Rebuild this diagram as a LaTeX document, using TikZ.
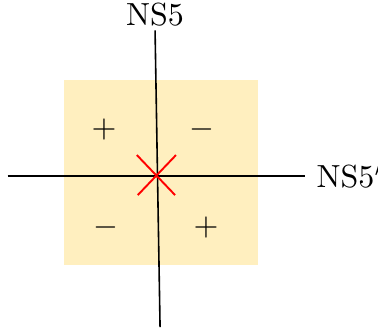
\documentclass[tikz,border=0pt]{standalone}
\usepackage{amsmath,amssymb}
\usepackage{tikz}

\begin{document}
\begin{tikzpicture}[scale=1, line width=0.5pt,
    % --- 样式定义 ---
    brane/.style={draw=black},
    region/.style={fill=orange!50!yellow!25, draw=none},
    crossing/.style={draw=red, line width=0.6pt},
    sign_text/.style={font=\normalsize}
]
    \useasboundingbox (-1.714,-1.736) rectangle (2.44,1.934);

    % =========================================
    % 背景区域
    % =========================================
    \fill[region] (-1.01,-0.98) rectangle (1.12,1.05);

    % --- 1. 定义坐标 ---
    % 竖直的 NS5 (略微倾斜)
    \coordinate (NS5_top) at (-0.01, 1.60);
    \coordinate (NS5_bot) at ( 0.045,-1.66);

    % 水平的 NS5'
    \coordinate (NS5p_left)  at (-1.63, 0);
    \coordinate (NS5p_right) at ( 1.64, 0);

    % 交点处的 X
    \coordinate (X_ul) at (-0.21, 0.23);
    \coordinate (X_lr) at ( 0.21,-0.21);
    \coordinate (X_ur) at ( 0.22, 0.23);
    \coordinate (X_ll) at (-0.20,-0.21);

    % --- 2. 连线 ---
    \draw[brane] (NS5_bot) -- (NS5_top);
    \node[above, inner sep=1pt] (NS5_lab) at (NS5_top) {NS5};

    \draw[brane] (NS5p_left) -- (NS5p_right);
    \node[right] (NS5p_lab) at (NS5p_right) {NS5$'$};

    \draw[crossing] (X_ul) -- (X_lr);
    \draw[crossing] (X_ur) -- (X_ll);

    % --- 3. 符号 ---
    \node[sign_text] (s_ul) at (-0.57, 0.51) {$+$};
    \node[sign_text] (s_ur) at ( 0.51, 0.51) {$-$};
    \node[sign_text] (s_ll) at (-0.55,-0.57) {$-$};
    \node[sign_text] (s_lr) at ( 0.55,-0.57) {$+$};

\end{tikzpicture}
\end{document}
